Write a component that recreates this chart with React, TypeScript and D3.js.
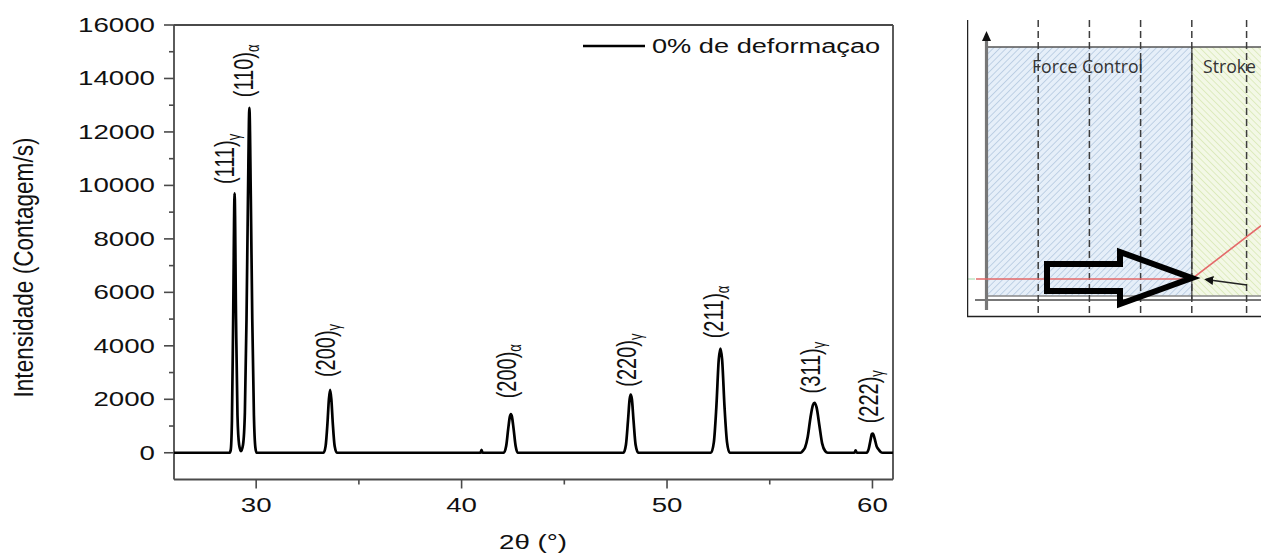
import React from 'react';
import * as d3 from 'd3';

// XRD profile (2θ, counts)
const profile: [number, number][] = [
    [26, 0], [28.7, 0], [28.76, 100], [28.82, 1200], [28.88, 5000], [28.95, 9700],
    [29.02, 5000], [29.09, 1400], [29.17, 300], [29.26, 60], [29.36, 300], [29.45, 1500],
    [29.53, 5000], [29.6, 9500], [29.67, 12900], [29.74, 9500], [29.81, 5000], [29.89, 1400],
    [29.96, 200], [30.02, 0],
    [33.28, 0], [33.38, 250], [33.47, 1100], [33.54, 2000], [33.6, 2350], [33.66, 2000],
    [33.73, 1100], [33.82, 250], [33.93, 0],
    [40.92, 0], [40.97, 110], [41.02, 0],
    [42.05, 0], [42.17, 250], [42.27, 900], [42.35, 1350], [42.4, 1450], [42.45, 1350],
    [42.53, 900], [42.63, 250], [42.73, 0],
    [47.88, 0], [48.0, 300], [48.1, 1200], [48.18, 2000], [48.23, 2180], [48.29, 2000],
    [48.37, 1200], [48.47, 300], [48.6, 0],
    [52.14, 0], [52.28, 400], [52.4, 1700], [52.52, 3500], [52.6, 3900], [52.68, 3500],
    [52.8, 1700], [52.92, 400], [53.05, 0],
    [56.5, 0], [56.62, 80], [56.72, 200], [56.85, 600], [56.98, 1300], [57.1, 1780],
    [57.18, 1870], [57.28, 1700], [57.42, 1000], [57.55, 350], [57.7, 60], [57.82, 0],
    [59.12, 0], [59.18, 90], [59.24, 0],
    [59.72, 0], [59.82, 150], [59.9, 450], [59.97, 700], [60.02, 720], [60.1, 550],
    [60.2, 250], [60.3, 120], [60.4, 30], [60.5, 0], [61, 0],
];

// peak labels: hkl, phase, 2θ of label, counts at label bottom
const peakHkl = ['(111)', '(110)', '(200)', '(200)', '(220)', '(211)', '(311)', '(222)'];
const peakPhase = ['γ', 'α', 'γ', 'α', 'γ', 'α', 'γ', 'γ'];
const labelTheta = [28.66, 29.59, 33.57, 42.37, 48.23, 52.48, 57.16, 60.0];
const labelCounts = [10050, 13300, 2830, 2035, 2470, 4280, 2220, 1100];

const xMajor = [30, 40, 50, 60];
const xMinor = [35, 45, 55];
const yMajor = [0, 2000, 4000, 6000, 8000, 10000, 12000, 14000, 16000];
const yMinor = [1000, 3000, 5000, 7000, 9000, 11000, 13000, 15000];

const legendLabel = '0% de deformaçao';
const xTitle = '2θ (°)';
const yTitle = 'Intensidade (Contagem/s)';

// inset picture: grid divisions and region titles
const insetDashes = [1, 2, 3, 4, 5.07];
const insetRegions = ['Force Control', 'Stroke'];

const FONT = '"Liberation Sans", Arial, sans-serif';
const SX = 1.42; // the source image is stretched sideways

const App: React.FC = () => {
    const width = 1261;
    const height = 556;
    const left = 174, right = 893, top = 25, bottom = 479.5;

    const x = d3.scaleLinear().domain([26, 61]).range([left, right]);
    const y = d3.scaleLinear().domain([-1000, 16000]).range([bottom, top]);

    const line = d3.line<[number, number]>()
        .x(d => x(d[0]))
        .y(d => y(d[1]))
        .curve(d3.curveMonotoneX);

    // inset
    const ix = d3.scaleLinear().domain([0, 1]).range([987, 1038.2]);
    const iTop = 47, iBot = 296, iAxis = 300;
    const redY = 279;
    const split = ix(4);

    return (
        <svg width={width} height={height} style={{ position: 'absolute', left: 0, top: 0, background: '#fff' }}
            fontFamily={FONT}>
            <defs>
                <pattern id="hBlue" width="4.6" height="4.6" patternUnits="userSpaceOnUse" patternTransform="rotate(45)">
                    <rect width="4.6" height="4.6" fill="#e6eff9" />
                    <line x1="0" y1="0" x2="0" y2="4.6" stroke="#a9c1da" strokeWidth="1.3" />
                </pattern>
                <pattern id="hGreen" width="4.6" height="4.6" patternUnits="userSpaceOnUse" patternTransform="rotate(-45)">
                    <rect width="4.6" height="4.6" fill="#f3f8e6" />
                    <line x1="0" y1="0" x2="0" y2="4.6" stroke="#d3e4aa" strokeWidth="1.3" />
                </pattern>
                <marker id="arrowSmall" viewBox="0 0 10 10" refX="8" refY="5" markerWidth="7" markerHeight="7" orient="auto-start-reverse">
                    <path d="M0,0 L10,5 L0,10 z" fill="#111" />
                </marker>
                <clipPath id="insetClip">
                    <rect x={967} y={20} width={width - 967} height={300} />
                </clipPath>
            </defs>

            {/* frame */}
            <g stroke="#4a4a4a" strokeWidth={1.8} fill="none">
                <line x1={left} x2={right} y1={top} y2={top} />
                <line x1={left} x2={right} y1={bottom} y2={bottom} />
                <line x1={left} x2={left} y1={top} y2={bottom} />
                <line x1={right} x2={right} y1={top} y2={bottom} />
            </g>

            {/* ticks */}
            <g stroke="#4a4a4a" strokeWidth={1.6}>
                {yMajor.map(v => <line key={'ym' + v} x1={left - 10} x2={left} y1={y(v)} y2={y(v)} />)}
                {yMinor.map(v => <line key={'yn' + v} x1={left - 5} x2={left} y1={y(v)} y2={y(v)} />)}
                {xMajor.map(v => <line key={'xm' + v} x1={x(v)} x2={x(v)} y1={bottom} y2={bottom + 9} />)}
                {xMinor.map(v => <line key={'xn' + v} x1={x(v)} x2={x(v)} y1={bottom} y2={bottom + 5} />)}
            </g>

            <g fontSize={19.5} fill="#111">
                {yMajor.map(v => (
                    <text key={'yl' + v} textAnchor="end" transform={`translate(155,${y(v) + 7}) scale(${SX},1)`}>{v}</text>
                ))}
                {xMajor.map(v => (
                    <text key={'xl' + v} textAnchor="middle" transform={`translate(${x(v)},512) scale(${SX},1)`}>{v}</text>
                ))}
            </g>

            {/* axis titles */}
            <text fontSize={20} fill="#111" textAnchor="middle" textLength={260} lengthAdjust="spacingAndGlyphs"
                transform={`translate(33,267.5) scale(1.4,1) rotate(-90)`}>{yTitle}</text>
            <text fontSize={19.5} fill="#111" textAnchor="middle"
                transform={`translate(533,549) scale(${SX},1)`}>{xTitle}</text>

            {/* profile */}
            <path d={line(profile) || ''} fill="none" stroke="#000" strokeWidth={2.7} strokeLinejoin="round" />

            {/* peak labels */}
            <g fill="#111">
                {peakHkl.map((h, i) => (
                    <text key={'pk' + i} fontSize={20}
                        transform={`translate(${x(labelTheta[i]) + 5.5},${y(labelCounts[i])}) scale(1.35,1) rotate(-90)`}>
                        {h}<tspan fontSize={13} dy={4}>{peakPhase[i]}</tspan>
                    </text>
                ))}
            </g>

            {/* legend */}
            <line x1={583} x2={645} y1={46} y2={46} stroke="#000" strokeWidth={2.6} />
            <text fontSize={20} fill="#111" transform={`translate(652,53) scale(1.36,1)`}>{legendLabel}</text>

            {/* inset picture */}
            <g clipPath="url(#insetClip)">
                <rect x={987} y={iTop} width={split - 987} height={iBot - iTop} fill="url(#hBlue)" />
                <rect x={split} y={iTop} width={width - split} height={iBot - iTop} fill="url(#hGreen)" />
                <line x1={987} x2={width} y1={iTop} y2={iTop} stroke="#555" strokeWidth={1.6} />
                <line x1={987} x2={width} y1={iBot} y2={iBot} stroke="#888" strokeWidth={1.4} />
                <line x1={975} x2={width} y1={iAxis} y2={iAxis} stroke="#777" strokeWidth={2} />
                <line x1={split} x2={split} y1={iTop} y2={iAxis} stroke="#666" strokeWidth={1.6} />
                {insetDashes.map(d => (
                    <line key={'d' + d} x1={ix(d)} x2={ix(d)} y1={20} y2={317} stroke="#3d3d3d"
                        strokeWidth={1.5} strokeDasharray="7 4" />
                ))}
                <line x1={986.5} x2={986.5} y1={38} y2={310} stroke="#777" strokeWidth={3.2} />
                <path d="M986.5,31 L982,41 L991,41 Z" fill="#111" />
                <line x1={968} x2={975} y1={redY} y2={redY} stroke="#bfe3c3" strokeWidth={1.5} />
                <polyline points={`976,${redY} ${split},${redY} ${width},${redY - 71 * 0.75}`} fill="none"
                    stroke="#e46a6a" strokeWidth={1.6} />
                <polygon points={`1047,264 1120,264 1120,252 ${split},${redY - 1} 1120,304 1120,291 1047,291`}
                    fill="none" stroke="#000" strokeWidth={6} strokeLinejoin="miter" />
                <line x1={1247} x2={1206} y1={285} y2={279.5} stroke="#222" strokeWidth={1.3} markerEnd="url(#arrowSmall)" />
                <text x={1032} y={73} fontSize={18} fill="#333" textLength={111} lengthAdjust="spacingAndGlyphs"
                    fontFamily='"Open Sans", sans-serif'>{insetRegions[0]}</text>
                <text x={1203} y={73} fontSize={18} fill="#333" textLength={53} lengthAdjust="spacingAndGlyphs"
                    fontFamily='"Open Sans", sans-serif'>{insetRegions[1]}</text>
                <line x1={967.5} x2={967.5} y1={20} y2={317} stroke="#222" strokeWidth={1.5} />
                <line x1={967} x2={width} y1={316.5} y2={316.5} stroke="#222" strokeWidth={1.5} />
            </g>
        </svg>
    );
};

export default App;
